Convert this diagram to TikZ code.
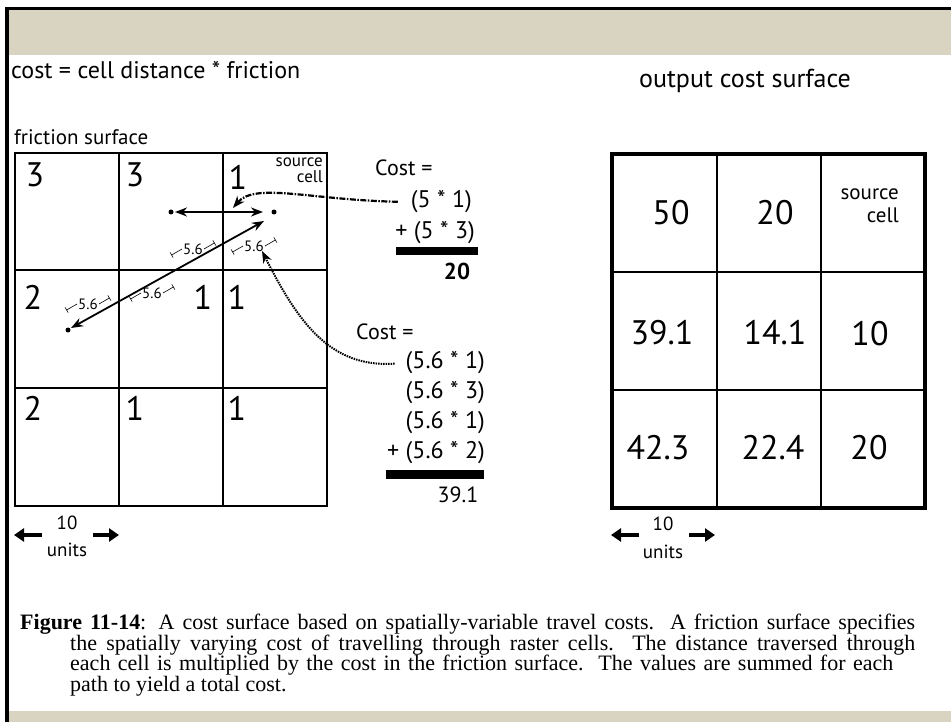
\documentclass[tikz,border=0pt]{standalone}
\usepackage{fontspec}
\setmainfont{Liberation Serif}
\newfontfamily\cfont{PT Sans}
\usetikzlibrary{arrows.meta}
\definecolor{tanband}{RGB}{217,211,194}
\newcommand\myfs[1]{\fontsize{#1}{#1}\selectfont}
\begin{document}
\begin{tikzpicture}[x=1pt,y=-1pt,
  every node/.style={inner sep=1pt},
  lnum/.style={font=\cfont\myfs{34}},
  rnum/.style={font=\cfont\myfs{34}},
  srcs/.style={font=\cfont\myfs{17}, anchor=base east},
  srcb/.style={font=\cfont\myfs{21}, anchor=base east},
  eq/.style={font=\cfont\myfs{24}},
  eqc/.style={font=\cfont\myfs{22}, anchor=west},
  unitlbl/.style={font=\cfont\myfs{19}},
  dimlbl/.style={font=\cfont\myfs{15}},
  dot/.style={circle, fill=black, inner sep=0pt, minimum size=5pt},
  gridln/.style={line width=2pt},
  dbl/.style={line width=1.8pt, {Stealth[length=12pt,width=9pt]}-{Stealth[length=12pt,width=9pt]}},
  unitarrow/.style={line width=4pt, -{Triangle[length=10pt,width=13pt]}},
  dashlink/.style={line width=2.2pt, dash pattern=on 6pt off 1.5pt on 1.5pt off 1.5pt, shorten <=12pt, -{Stealth[length=12pt,width=9pt]}},
  dotlink/.style={line width=2pt, dash pattern=on 1.5pt off 1pt, shorten <=10pt, -{Stealth[length=12pt,width=9pt]}},
  captext/.style={font=\fontsize{22}{20.5}\selectfont, align=left, anchor=north west, inner sep=0pt}
]
\useasboundingbox (0,0) rectangle (951,722);
\fill[white] (0,0) rectangle (951,722);
% frame
\fill[tanband] (9,10) rectangle (951,55);
\fill[tanband] (9,711) rectangle (951,722);
\draw[line width=3pt] (5,8.5) -- (951,8.5);
\draw[line width=4pt] (7,7) -- (7,722);

% headings
\node[font=\cfont\myfs{24}, anchor=west] (h1) at (10,70) {cost = cell distance * friction};
\node[font=\cfont\myfs{26}, anchor=west] (h2) at (638,81) {output cost surface};
\node[font=\cfont\myfs{21}, anchor=west] (h3) at (13,137) {friction surface};

% left grid
\draw[gridln] (15,153) rectangle (327,506);
\draw[gridln] (119,153) -- (119,506) (223,153) -- (223,506)
              (15,270) -- (327,270) (15,388) -- (327,388);
\node[lnum] (f11) at (35,175) {3};
\node[lnum] (f12) at (135,175) {3};
\node[lnum] (f13) at (238,177) {1};
\node[lnum] (f21) at (33,297) {2};
\node[lnum] (f22) at (203,297) {1};
\node[lnum] (f23) at (237,297) {1};
\node[lnum] (f31) at (33,408) {2};
\node[lnum] (f32) at (135,408) {1};
\node[lnum] (f33) at (237,408) {1};
\node[srcs] (srcL1) at (324,167) {source};
\node[srcs] (srcL2) at (324,183) {cell};

% dots and path arrows
\node[dot] (dA) at (171,212) {};
\node[dot] (dB) at (274,212) {};
\node[dot] (dC) at (68,330) {};
\coordinate (hL) at (175,212);
\coordinate (hR) at (263,212);
\coordinate (gL) at (71,328);
\coordinate (gR) at (264,221);
\draw[dbl] (hL) -- (hR);
\draw[dbl] (gL) -- (gR);

% 5.6 dimension marks
\foreach \px/\py/\nm in {88/304/m1, 152/293/m2, 193/249/m3, 254/246/m4}{
  \begin{scope}[shift={(\px,\py)}, rotate=30]
    \node[dimlbl] (\nm) at (0,0) {5.6};
    \draw[line width=0.6pt] (\nm.west) -- ++(-12,0) coordinate (\nm a);
    \draw[line width=0.6pt] (\nm.east) -- ++(12,0) coordinate (\nm b);
    \draw[line width=0.6pt] ([yshift=-3pt]\nm a) -- ([yshift=3pt]\nm a);
    \draw[line width=0.6pt] ([yshift=-3pt]\nm b) -- ([yshift=3pt]\nm b);
  \end{scope}
}

% equation 1
\node[eqc] (c1) at (374,168) {Cost =};
\node[eq, anchor=east] (e11) at (473,202) {(5 * 1)};
\node[eq, anchor=east] (e12) at (476,233) {+ (5 * 3)};
\fill (396,247) rectangle (478,255);
\node[font=\cfont\bfseries\myfs{23}] (t1) at (457,271) {20};

% equation 2
\node[eqc] (c2) at (355,332) {Cost =};
\node[eq, anchor=east] (e21) at (486,363) {(5.6 * 1)};
\node[eq, anchor=east] (e22) at (486,393) {(5.6 * 3)};
\node[eq, anchor=east] (e23) at (486,423) {(5.6 * 1)};
\node[eq, anchor=east] (e24) at (486,453) {+ (5.6 * 2)};
\fill (386,470) rectangle (484,479);
\node[font=\cfont\myfs{22}] (t2) at (458,495) {39.1};

% connectors
\coordinate (tip1) at (233,208);
\coordinate (tip2) at (262,251);
\draw[dashlink] (e11.west) .. controls (310,200) and (255,182) .. (tip1);
\draw[dotlink] (e21.west) .. controls (330,368) and (298,322) .. (tip2);

% right grid
\draw[line width=3.5pt] (612,154) rectangle (925,508);
\draw[line width=2.5pt] (717,154) -- (717,508) (821,154) -- (821,508)
              (612,272) -- (925,272) (612,390) -- (925,390);
\node[rnum] (o11) at (671,213) {50};
\node[rnum] (o12) at (775,213) {20};
\node[srcb] (srcR1) at (900,200) {source};
\node[srcb] (srcR2) at (900,223) {cell};
\node[rnum] (o21) at (662,333) {39.1};
\node[rnum] (o22) at (775,333) {14.1};
\node[rnum] (o23) at (870,334) {10};
\node[rnum] (o31) at (658,448) {42.3};
\node[rnum] (o32) at (773,448) {22.4};
\node[rnum] (o33) at (869,448) {20};

% unit arrows
\node[unitlbl] (u1n) at (67,523) {10};
\node[unitlbl] (u1t) at (67,550) {units};
\coordinate (u1a) at (42,535); \coordinate (u1b) at (14,535);
\coordinate (u1c) at (93,535); \coordinate (u1d) at (119,535);
\draw[unitarrow] (u1a) -- (u1b);
\draw[unitarrow] (u1c) -- (u1d);
\node[unitlbl] (u2n) at (663,524) {10};
\node[unitlbl] (u2t) at (663,552) {units};
\coordinate (u2a) at (639,535); \coordinate (u2b) at (611,535);
\coordinate (u2c) at (689,535); \coordinate (u2d) at (715,535);
\draw[unitarrow] (u2a) -- (u2b);
\draw[unitarrow] (u2c) -- (u2d);

% caption
\node[captext] (caption) at (20,614) {%
\makebox[895pt][s]{\textbf{Figure 11-14}: A cost surface based on spatially-variable travel costs.\ \ A friction surface specifies}\\
\hspace*{50pt}\makebox[845pt][s]{the spatially varying cost of travelling through raster cells.\ \ The distance traversed through}\\
\hspace*{50pt}\makebox[823pt][s]{each cell is multiplied by the cost in the friction surface.\ \ The values are summed for each}\\
\hspace*{50pt}path to yield a total cost.};
\end{tikzpicture}
\end{document}
